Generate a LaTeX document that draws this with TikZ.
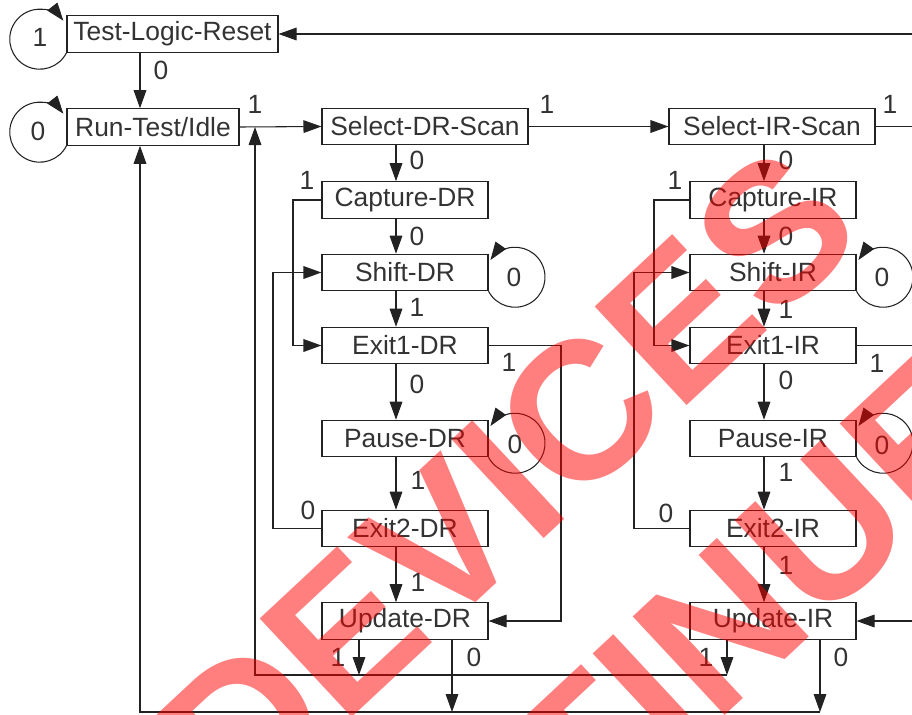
\documentclass[tikz,border=0pt]{standalone}
\usepackage{fontspec}
\setmainfont{Liberation Sans}
\usetikzlibrary{arrows.meta}
\definecolor{inkgray}{HTML}{333333}
\definecolor{linegray}{HTML}{222222}

\begin{document}
\begin{tikzpicture}[x=0.75pt,y=-0.75pt,
  state/.style={draw=linegray, line width=0.8pt, text=inkgray, inner xsep=4pt, inner ysep=0pt,
    minimum height=27.4pt, font=\fontsize{19.8}{20}\selectfont},
  col/.style={state, minimum width=124.5pt},
  lbl/.style={text=inkgray, inner sep=0pt, font=\fontsize{19.8}{20}\selectfont},
  arr/.style={draw=linegray, line width=0.8pt, -{Triangle[length=13.5pt,width=9.5pt]}},
  wmark/.style={text=red, text opacity=0.5, inner sep=0pt, rotate=43,
    font=\fontsize{147}{147}\selectfont\bfseries}]

\useasboundingbox (0,0) rectangle (912,714);
\clip (0,0) rectangle (912,714);

% routing columns and rows
\coordinate (xa) at (140,0);
\coordinate (xb) at (255,0);
\coordinate (xdr) at (396,0);
\coordinate (xir) at (764,0);
\coordinate (xcd) at (293,0);
\coordinate (xed) at (273,0);
\coordinate (xrd) at (561,0);
\coordinate (xci) at (654,0);
\coordinate (xei) at (634,0);
\coordinate (xri) at (925,0);
\coordinate (xs) at (940,0);
\coordinate (xd1) at (359,0);
\coordinate (xd0) at (452,0);
\coordinate (xi1) at (727,0);
\coordinate (xi0) at (820,0);
\coordinate (y1) at (0,675);
\coordinate (y0) at (0,712);

% states
\node[state, minimum width=158.25pt] (tlr) at (172.5,34) {Test-Logic-Reset};
\node[state, minimum width=129pt] (rti) at (153,127) {Run-Test/Idle};
\node[state, minimum width=154.5pt] (seldr) at (425,126.5) {Select-DR-Scan};
\node[state, minimum width=154.5pt] (selir) at (772,126.5) {Select-IR-Scan};

\foreach \n/\t/\y in {capdr/Capture-DR/200, shdr/Shift-DR/272.5, ex1dr/Exit1-DR/345.5,
    padr/Pause-DR/438.5, ex2dr/Exit2-DR/528.5, updr/Update-DR/621}
  \node[col] (\n) at (405,\y) {\t};

\foreach \n/\t/\y in {capir/Capture-IR/200, shir/Shift-IR/272.5, ex1ir/Exit1-IR/345.5,
    pair/Pause-IR/438.5, ex2ir/Exit2-IR/528.5, upir/Update-IR/621}
  \node[col] (\n) at (773,\y) {\t};

% self loops
\draw[arr] (tlr.south west) arc[start angle=-27, end angle=-322, radius=22.5pt];
\draw[arr] (rti.south west) arc[start angle=-27, end angle=-322, radius=22.5pt];
\foreach \n in {shdr, padr, shir, pair}
  \draw[arr] (\n.south east) arc[start angle=-152, end angle=145, radius=22.5pt];

% main line
\draw[arr] (tlr.south -| xa) -- (rti.north -| xa);
\draw[arr] (rti.east) -- (seldr.west);
\draw[arr] (seldr.east) -- (selir.west);
\draw[arr] (selir.east) -| (xs |- tlr.east) -- (tlr.east);

% columns
\foreach \a/\b in {seldr/capdr, capdr/shdr, shdr/ex1dr, ex1dr/padr, padr/ex2dr, ex2dr/updr}
  \draw[arr] (\a.south -| xdr) -- (\b.north -| xdr);
\foreach \a/\b in {selir/capir, capir/shir, shir/ex1ir, ex1ir/pair, pair/ex2ir, ex2ir/upir}
  \draw[arr] (\a.south -| xir) -- (\b.north -| xir);

% side branches
\draw[arr] (capdr.west) -- (capdr.west -| xcd) |- (ex1dr.west);
\draw[arr] (ex2dr.west) -- (ex2dr.west -| xed) |- (shdr.west);
\draw[arr] (ex1dr.east) -- (ex1dr.east -| xrd) |- (updr.east);
\draw[arr] (capir.west) -- (capir.west -| xci) |- (ex1ir.west);
\draw[arr] (ex2ir.west) -- (ex2ir.west -| xei) |- (shir.west);
\draw[arr] (ex1ir.east) -- (ex1ir.east -| xri) |- (upir.east);

% back to Select-DR-Scan and Run-Test/Idle
\draw[arr] (updr.south -| xd1) -- (xd1 |- y1);
\draw[arr] (upir.south -| xi1) -- (xi1 |- y1);
\draw[arr] (xi1 |- y1) -| (xb |- rti.east);
\draw[arr] (updr.south -| xd0) -- (xd0 |- y0);
\draw[arr] (upir.south -| xi0) -- (xi0 |- y0);
\draw[arr] (xi0 |- y0) -| (rti.south -| xa);

% TMS values
\foreach \n/\x/\y/\t in {l1/40/37/1, l2/38/131/0, l3/161/70/0, l4/255/104/1, l5/547/104/1, l6/890/104/1,
    l7/417/160/0, l8/417/236/0, l9/417/307/1, l10/417/384/0, l11/418/480/1, l12/418/582/1,
    l13/786/160/0, l14/786/236/0, l15/786/309/1, l16/786/380/0, l17/786/472/1, l18/786/565/1,
    l19/307/180/1, l20/308/510/0, l21/509/362/1, l22/675/180/1, l23/666/513/0, l24/877/363/1,
    l25/514/277/0, l26/515/444/0, l27/882/277/0, l28/882/445/0,
    l29/338/657/1, l30/474/657/0, l31/706/657/1, l32/841/657/0}
  \node[lbl] (\n) at (\x,\y) {\t};

% watermark
\node[wmark] (dev) at (508,480) {DEVICES};
\node[wmark] (disc) at (530,805) {DISCONTINUED};

\end{tikzpicture}
\end{document}
